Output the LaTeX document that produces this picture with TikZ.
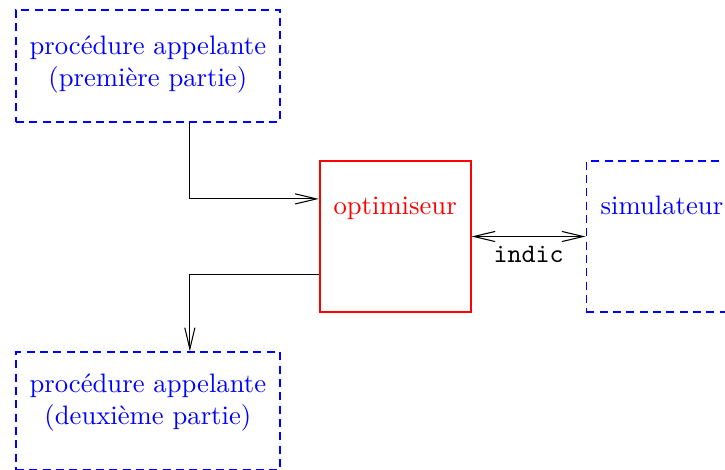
\documentclass[tikz,border=0pt]{standalone}
\usepackage{tikz}
\usetikzlibrary{arrows.meta,positioning}

\begin{document}
\begin{tikzpicture}[
  blueline/.style={blue,draw,line width=0.7pt,dash pattern=on 3pt off 2pt},
  proc/.style={rectangle,blueline,align=center,minimum width=99pt},
  core/.style={rectangle,line width=0.7pt,minimum width=56.6pt,minimum height=56.6pt,
               text height=6.9pt,text depth=23.3pt},
  flow/.style={-{Straight Barb[length=8pt,width=3.8pt]}},
  link/.style={{Straight Barb[length=8pt,width=3.8pt]}-{Straight Barb[length=8pt,width=3.8pt]}}
]
\useasboundingbox (0,0) rectangle (271.9pt,176.25pt);
\clip (0,0) rectangle (271.9pt,176.25pt);

% calling procedure, split around the optimiser call
\node[proc,minimum height=42pt,text depth=3.5pt,anchor=north west] (appel1) at (5.6pt,172.9pt)
  {procédure appelante\\(première partie)};
\node[core,red,draw,below right=14pt and 14.25pt of appel1] (optim) {optimiseur};
\node[core,blueline,right=42.75pt of optim] (simul) {simulateur};
\node[proc,minimum height=44pt,text depth=8.6pt,below left=14.4pt and 14.25pt of optim] (appel2)
  {procédure appelante\\(deuxième partie)};

% control passes in and out of the optimiser
\draw[flow] ([xshift=15.75pt]appel1.south) |- ([yshift=14.1pt]optim.west);
\draw[flow] ([yshift=-14.1pt]optim.west) -| ([xshift=15.75pt]appel2.north);
% exchange with the simulator
\draw[link] (optim) -- node[below,font=\ttfamily]{indic} (simul);

\end{tikzpicture}
\end{document}
